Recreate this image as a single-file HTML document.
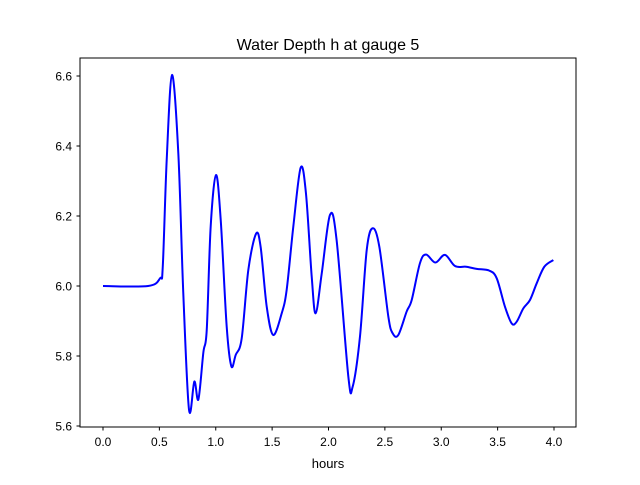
<!DOCTYPE html>
<html><head><meta charset="utf-8"><style>
body{margin:0;background:#fff;font-family:"Liberation Sans","DejaVu Sans",sans-serif}
</style></head><body>
<svg width="640" height="480" viewBox="0 0 640 480" id="chart">
<rect width="640" height="480" fill="#fff"/>
<text x="328" y="50" font-size="16" text-anchor="middle">Water Depth h at gauge 5</text>
<g id="axes"></g>
<path id="line" fill="none" stroke="#0000ff" stroke-width="2" stroke-linejoin="round"/>
<rect x="80" y="58" width="496" height="369" fill="none" stroke="#000" stroke-width="1"/>
<text x="328" y="468" font-size="13" text-anchor="middle">hours</text>
</svg>
<script>
const hours=[0,0.40,0.506,0.53,0.565,0.612,0.668,0.712,0.763,0.81,0.846,0.89,0.92,0.955,1.002,1.044,1.097,1.138,1.177,1.23,1.289,1.357,1.398,1.452,1.51,1.585,1.629,1.688,1.753,1.8,1.851,1.886,1.94,2.013,2.072,2.176,2.214,2.279,2.339,2.392,2.451,2.531,2.569,2.619,2.693,2.738,2.811,2.865,2.948,3.033,3.122,3.22,3.314,3.426,3.492,3.565,3.625,3.669,3.728,3.787,3.847,3.914,3.994];
const depth=[6.0,6.0,6.022,6.055,6.36,6.603,6.379,5.98,5.646,5.727,5.676,5.81,5.874,6.17,6.317,6.189,5.884,5.771,5.803,5.85,6.046,6.149,6.112,5.941,5.86,5.922,5.989,6.17,6.338,6.265,6.027,5.922,6.036,6.203,6.131,5.741,5.712,5.855,6.103,6.165,6.112,5.912,5.865,5.86,5.927,5.96,6.065,6.09,6.067,6.089,6.057,6.055,6.049,6.044,6.022,5.941,5.893,5.898,5.936,5.96,6.008,6.055,6.074];
const xTicks=[0,0.5,1,1.5,2,2.5,3,3.5,4];
const xTickLabels=["0.0","0.5","1.0","1.5","2.0","2.5","3.0","3.5","4.0"];
const yTicks=[5.6,5.8,6.0,6.2,6.4,6.6];
const yTickLabels=["5.6","5.8","6.0","6.2","6.4","6.6"];
const X=h=>103+h*112.75;
const Y=v=>286-(v-6.0)*350;
const NS="http://www.w3.org/2000/svg";
const ax=document.getElementById('axes');
function mk(tag,attrs){const e=document.createElementNS(NS,tag);for(const k in attrs)e.setAttribute(k,attrs[k]);ax.appendChild(e);return e;}
xTicks.forEach((t,i)=>{
  const l=mk('line',{x1:X(t),x2:X(t),y1:427,y2:430.5,stroke:'#000'});
  
  
  const tx=mk('text',{x:X(t),y:446,'font-size':12,'text-anchor':'middle'});
  tx.textContent=xTickLabels[i];
  
  
});
yTicks.forEach((t,i)=>{
  const l=mk('line',{x1:76.5,x2:80,y1:Y(t),y2:Y(t),stroke:'#000'});
  
  
  const tx=mk('text',{x:72,y:Y(t)+4.5,'font-size':12,'text-anchor':'end'});
  tx.textContent=yTickLabels[i];
  
  
});
const P=hours.map((h,i)=>[X(h),Y(depth[i])]);
let d='M'+P[0][0]+','+P[0][1];
for(let i=0;i<P.length-1;i++){
  const p0=P[Math.max(0,i-1)],p1=P[i],p2=P[i+1],p3=P[Math.min(P.length-1,i+2)];
  const c1=[p1[0]+(p2[0]-p0[0])/6,p1[1]+(p2[1]-p0[1])/6];
  const c2=[p2[0]-(p3[0]-p1[0])/6,p2[1]-(p3[1]-p1[1])/6];
  d+=' C'+c1[0].toFixed(2)+','+c1[1].toFixed(2)+' '+c2[0].toFixed(2)+','+c2[1].toFixed(2)+' '+p2[0].toFixed(2)+','+p2[1].toFixed(2);
}
document.getElementById('line').setAttribute('d',d);
</script>
</body></html>
